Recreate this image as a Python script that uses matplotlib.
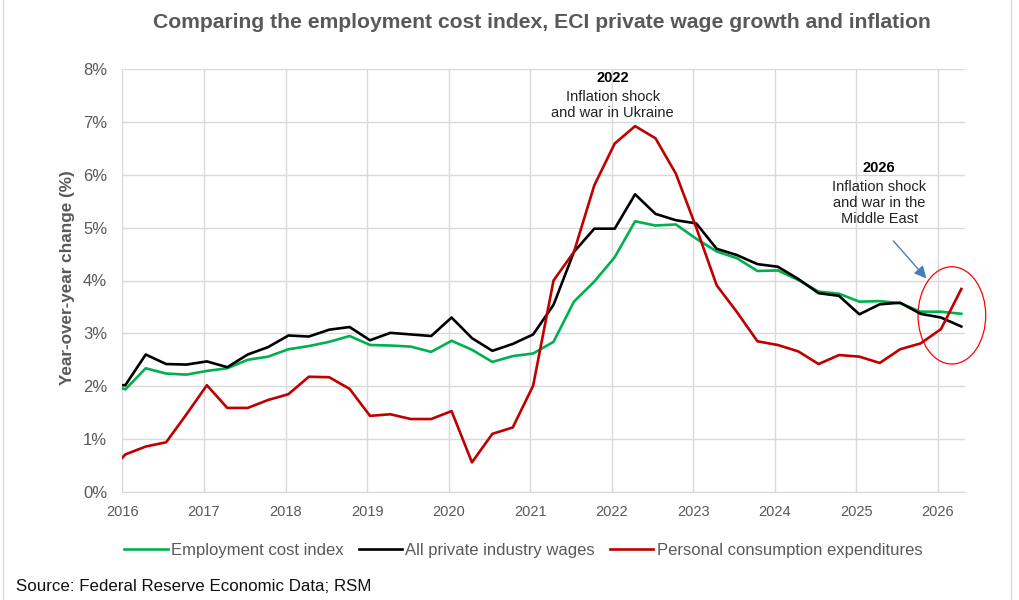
import numpy as np
import matplotlib
matplotlib.use('Agg')
import matplotlib.pyplot as plt
from matplotlib.patches import Ellipse, Rectangle

plt.rcParams['font.family'] = ['Liberation Sans', 'DejaVu Sans']

# quarterly observations (decimal years), first one sits just left of the axis
quarters = 2015.786 + 0.25 * np.arange(43)

eci = [2.08, 1.94, 2.34, 2.24, 2.22, 2.29, 2.34, 2.50, 2.56, 2.70, 2.76,
       2.84, 2.95, 2.78, 2.77, 2.75, 2.65, 2.86, 2.69, 2.46, 2.57, 2.62,
       2.84, 3.60, 3.98, 4.44, 5.12, 5.04, 5.06, 4.79, 4.55, 4.42, 4.18,
       4.19, 4.01, 3.79, 3.75, 3.60, 3.61, 3.57, 3.41, 3.41, 3.37]
private_wages = [2.02, 2.02, 2.60, 2.42, 2.41, 2.47, 2.36, 2.60, 2.74, 2.96, 2.94,
                 3.07, 3.12, 2.87, 3.01, 2.98, 2.95, 3.30, 2.91, 2.67, 2.80, 2.98,
                 3.54, 4.54, 4.98, 4.98, 5.63, 5.26, 5.14, 5.08, 4.60, 4.48, 4.31,
                 4.26, 4.03, 3.76, 3.71, 3.36, 3.55, 3.58, 3.37, 3.30, 3.13]
pce = [0.30, 0.71, 0.86, 0.94, 1.47, 2.02, 1.59, 1.59, 1.74, 1.85, 2.18,
       2.17, 1.95, 1.44, 1.47, 1.38, 1.38, 1.53, 0.56, 1.10, 1.22, 2.01,
       4.00, 4.54, 5.80, 6.59, 6.92, 6.69, 6.02, 5.00, 3.91, 3.40, 2.85,
       2.78, 2.66, 2.42, 2.59, 2.56, 2.44, 2.70, 2.81, 3.08, 3.84]

year_ticks = list(range(2016, 2027))
pct_ticks = list(range(0, 9))

gray = '#595959'

fig = plt.figure(figsize=(10.2, 6), dpi=100)
ax = fig.add_axes([0.12, 0.18, 0.826, 0.705])

ax.plot(quarters, eci, color='#00b050', lw=1.9, label='Employment cost index')
ax.plot(quarters, private_wages, color='black', lw=1.9, label='All private industry wages')
ax.plot(quarters, pce, color='#c00000', lw=1.9, label='Personal consumption expenditures')

ax.set_xlim(2016, 2026.33)
ax.set_ylim(0, 8)
ax.set_xticks(year_ticks)
ax.set_xticklabels([str(y) for y in year_ticks])
ax.set_yticks(pct_ticks)
ax.set_yticklabels([f'{p}%' for p in pct_ticks])
ax.tick_params(axis='x', length=0, pad=9, labelsize=10.5, labelcolor=gray)
ax.tick_params(axis='y', length=0, pad=11, labelsize=12, labelcolor=gray)
ax.grid(True, color='#d9d9d9', lw=1)
ax.set_axisbelow(True)
for side in ['top', 'right', 'left']:
    ax.spines[side].set_visible(False)
ax.spines['bottom'].set_color('#d9d9d9')

# 2022 note
ax.text(2022.01, 7.83, '2022', ha='center', va='center', fontsize=10.5, fontweight='bold')
ax.text(2022.01, 7.32, 'Inflation shock\nand war in Ukraine', ha='center', va='center',
        fontsize=10.5, linespacing=1.2, color='#222222')

# 2026 note with arrow and circle
ax.text(2025.28, 6.12, '2026', ha='center', va='center', fontsize=10.5, fontweight='bold')
ax.text(2025.28, 5.47, 'Inflation shock\nand war in the\nMiddle East', ha='center', va='center',
        fontsize=10.5, linespacing=1.2, color='#222222')
ax.annotate('', xy=(2025.88, 4.0), xytext=(2025.43, 4.79),
            arrowprops=dict(arrowstyle='-|>', color='#4a7ebb', lw=1, mutation_scale=18))
ax.add_patch(Ellipse((2026.17, 3.34), 0.83, 1.84, fill=False, edgecolor='#ff0000',
                     lw=0.9, clip_on=False))

fig.text(0.531, 0.962, 'Comparing the employment cost index, ECI private wage growth and inflation',
         ha='center', va='center', fontsize=15.2, fontweight='bold', color=gray)
fig.text(68 / 1020, 1 - 278 / 600, 'Year-over-year change (%)', rotation=90,
         ha='center', va='center', fontsize=12.3, fontweight='bold', color=gray)

fig.legend(loc='center', bbox_to_anchor=(0.513, 0.082), ncol=3, frameon=False,
           fontsize=12, handlelength=2.6, handletextpad=0.2, columnspacing=0.9,
           labelcolor=gray)

fig.text(0.016, 0.022, 'Source: Federal Reserve Economic Data; RSM', ha='left', va='center',
         fontsize=12.2, color='#111111')

fig.add_artist(Rectangle((0.003, -0.01), 0.988, 1.02, transform=fig.transFigure,
                         fill=False, edgecolor='#d9d9d9', lw=1))

fig.savefig('out.png', dpi=100)
